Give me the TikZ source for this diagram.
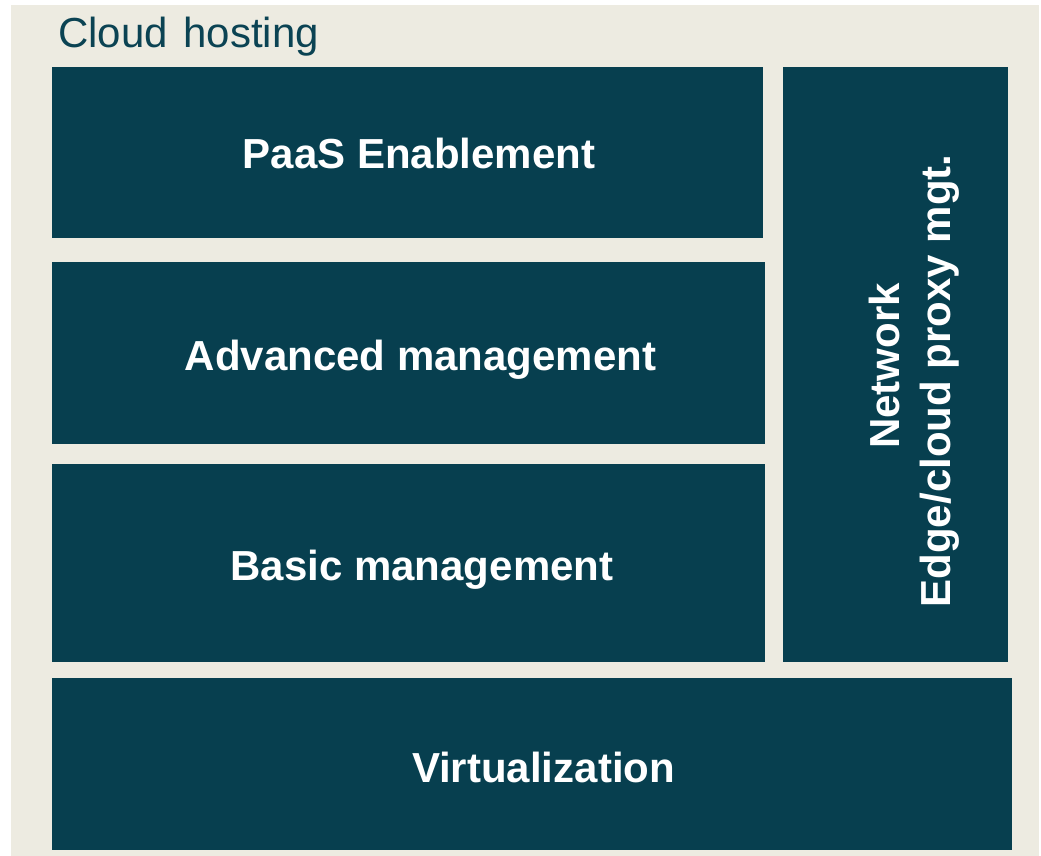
\documentclass[tikz,border=0pt]{standalone}
\usepackage{fontspec}
\setmainfont{Liberation Sans}
\usepackage{xcolor}
\usepackage{tikz}
\usetikzlibrary{positioning}
\definecolor{hostbg}{HTML}{EDEBE1}
\definecolor{layerfill}{HTML}{073F4F}
\definecolor{titletext}{HTML}{0B4353}

\begin{document}
\begin{tikzpicture}[x=1pt,y=1pt,
                    layer/.style={rectangle,fill=layerfill,inner sep=0pt},
                    layer text/.style={text=white,font=\bfseries\fontsize{42}{50}\selectfont,anchor=base,inner sep=0pt}]
  \useasboundingbox (0,0) rectangle (1041,856);
  \fill[hostbg] (11,0) rectangle (1039,851);
  \node[text=titletext,font=\fontsize{42}{50}\selectfont,anchor=base west,inner sep=0pt] (title) at (58,808) {Cloud\hspace{4pt} hosting};
%left stack
  \node[layer,minimum width=711pt,minimum height=171pt] (paas) at (407.5,703.5) {};
  \node[layer,minimum width=713pt,minimum height=182pt] (advanced) at (408.5,503) {};
  \node[layer,minimum width=713pt,minimum height=198pt] (basic) at (408.5,293) {};
%right column and bottom
  \node[layer,minimum width=225pt,minimum height=595pt] (network) at (895.5,491.5) {};
  \node[layer,minimum width=960pt,minimum height=172pt] (virt) at (532,92) {};

  \node[layer text] [shift={(11.5pt,-16.5pt)}] at (paas) {PaaS Enablement};
  \node[layer text] [shift={(12pt,-18pt)}] at (advanced) {Advanced management};
  \node[layer text] [shift={(13.5pt,-18pt)}] at (basic) {Basic management};
  \node[layer text] [shift={(11.5pt,-19pt)}] at (virt) {Virtualization};
  % shift is taken in the turned frame
  \node[layer text,anchor=center,rotate=90,align=center,font=\bfseries\fontsize{42}{51}\selectfont] [shift={(-16.5pt,-18.5pt)}] at (network) {\hspace*{30pt}Network\\Edge/cloud proxy mgt.};
\end{tikzpicture}
\end{document}
